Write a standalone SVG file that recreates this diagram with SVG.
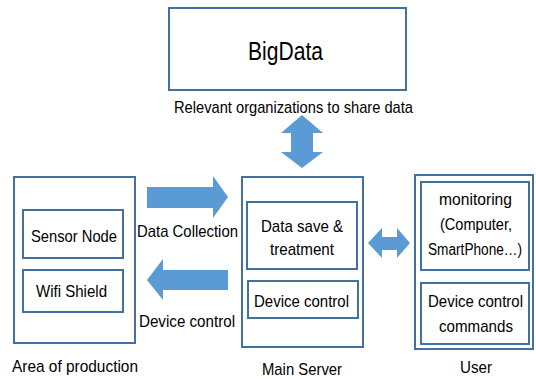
<svg xmlns="http://www.w3.org/2000/svg" width="536" height="379" viewBox="0 0 536 379">
<style>
.box{fill:#fff;stroke:#41719C;stroke-width:2}
.arr{fill:#5B9BD5;stroke:none}
text{font-family:"Liberation Sans",Arial,sans-serif;font-size:17px;fill:#000}
.big{font-size:25px}
.sm{font-size:16px}
</style>
<rect width="536" height="379" fill="#fff"/>
<g id="bigdata">
<rect class="box" x="169" y="8" width="237" height="82"/>
<text class="big" x="248" y="60" textLength="75" lengthAdjust="spacingAndGlyphs">BigData</text>
</g>
<g id="area">
<rect class="box" x="14" y="177" width="121" height="166"/>
<text x="12" y="372" textLength="126" lengthAdjust="spacingAndGlyphs">Area of production</text>
</g>
<g id="sensor">
<rect class="box" x="23" y="210" width="100" height="48"/>
<text x="31" y="242" textLength="86" lengthAdjust="spacingAndGlyphs">Sensor Node</text>
</g>
<g id="wifi">
<rect class="box" x="23" y="270" width="100" height="42"/>
<text x="36" y="297" textLength="71" lengthAdjust="spacingAndGlyphs">Wifi Shield</text>
</g>
<g id="server">
<rect class="box" x="242" y="177" width="121" height="170"/>
<text x="262" y="375" textLength="80" lengthAdjust="spacingAndGlyphs">Main Server</text>
</g>
<g id="datasave">
<rect class="box" x="247" y="202" width="110" height="67"/>
<text x="261" y="232" textLength="82" lengthAdjust="spacingAndGlyphs">Data save &amp;</text>
<text x="270" y="255" textLength="64" lengthAdjust="spacingAndGlyphs">treatment</text>
</g>
<g id="servercontrol">
<rect class="box" x="248" y="281" width="110" height="37"/>
<text x="254" y="307" textLength="95" lengthAdjust="spacingAndGlyphs">Device control</text>
</g>
<g id="user">
<rect class="box" x="415" y="175" width="118" height="174"/>
<text x="460" y="373" textLength="32" lengthAdjust="spacingAndGlyphs">User</text>
</g>
<g id="monitoring">
<rect class="box" x="421" y="182" width="108" height="88"/>
<text x="439" y="205" textLength="73" lengthAdjust="spacingAndGlyphs">monitoring</text>
<text x="440" y="230" textLength="72" lengthAdjust="spacingAndGlyphs">(Computer,</text>
<text class="sm" x="428" y="255" textLength="94" lengthAdjust="spacingAndGlyphs">SmartPhone…)</text>
</g>
<g id="commands">
<rect class="box" x="421" y="283" width="108" height="61"/>
<text x="428" y="307" textLength="95" lengthAdjust="spacingAndGlyphs">Device control</text>
<text x="439" y="332" textLength="74" lengthAdjust="spacingAndGlyphs">commands</text>
</g>
<g id="connectors">
<polygon class="arr" points="147,187 213,187 213,176 228,197 213,218 213,208 147,208"/>
<text x="137" y="237" textLength="101" lengthAdjust="spacingAndGlyphs">Data Collection</text>
<polygon class="arr" points="147,280 163,259 163,270 228,270 228,290 163,290 163,300"/>
<text x="139" y="327" textLength="96" lengthAdjust="spacingAndGlyphs">Device control</text>
<polygon class="arr" points="302,115 323,133 313,133 313,152 323,152 302,168 281,152 291,152 291,133 281,133"/>
<text x="174" y="113" textLength="239" lengthAdjust="spacingAndGlyphs">Relevant organizations to share data</text>
<polygon class="arr" points="368,243 382,228 382,237 397,237 397,228 410,243 397,258 397,250 382,250 382,258"/>
</g>
</svg>
